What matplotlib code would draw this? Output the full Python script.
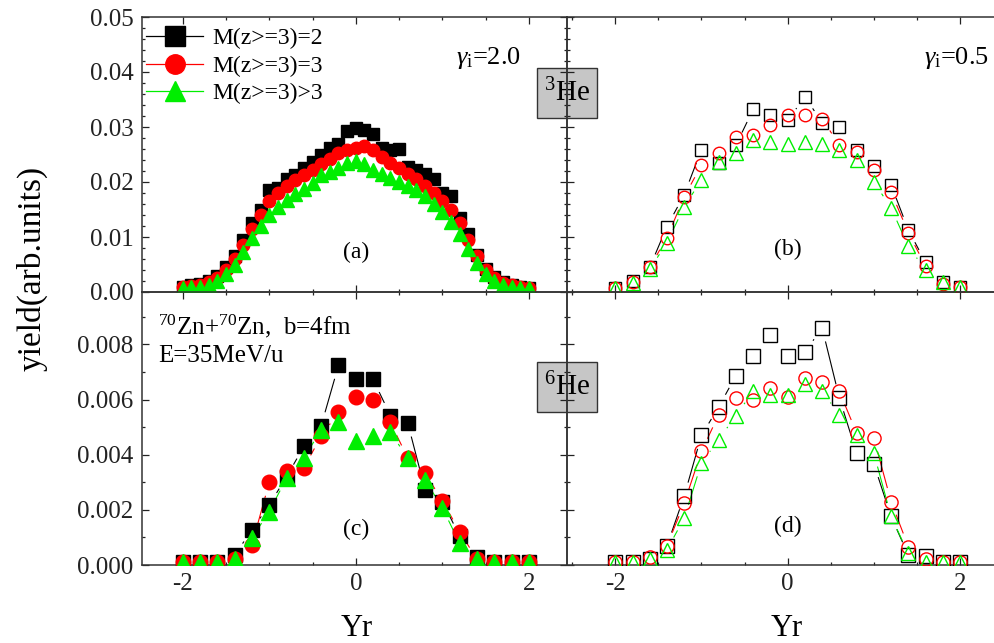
import numpy as np
import matplotlib
matplotlib.use('Agg')
import matplotlib.pyplot as plt
from matplotlib.ticker import MultipleLocator, NullFormatter
from matplotlib.collections import LineCollection
from matplotlib.lines import Line2D
from matplotlib.patches import Rectangle

plt.rcParams['font.family'] = ['Liberation Serif', 'DejaVu Serif']
plt.rcParams['mathtext.fontset'] = 'custom'
plt.rcParams['mathtext.rm'] = 'Liberation Serif'
plt.rcParams['mathtext.it'] = 'Liberation Serif:italic'

# rapidity grid (panel a is finer)
yr_fine = [-2.0, -1.9, -1.8, -1.7, -1.6, -1.5, -1.4, -1.3, -1.2, -1.1, -1.0,
           -0.9, -0.8, -0.7, -0.6, -0.5, -0.4, -0.3, -0.2, -0.1, 0.0,
           0.1, 0.2, 0.3, 0.4, 0.5, 0.6, 0.7, 0.8, 0.9, 1.0,
           1.1, 1.2, 1.3, 1.4, 1.5, 1.6, 1.7, 1.8, 1.9, 2.0]
yr = [-2.0, -1.8, -1.6, -1.4, -1.2, -1.0, -0.8, -0.6, -0.4, -0.2, 0.0,
      0.2, 0.4, 0.6, 0.8, 1.0, 1.2, 1.4, 1.6, 1.8, 2.0]

labels = ['M(z>=3)=2', 'M(z>=3)=3', 'M(z>=3)>3']
colors = ['black', '#ff0000', '#00ee00']
markers = ['s', 'o', '^']

# (a) 3He, gamma_i = 2.0
a_m2 = [0.0010, 0.0012, 0.0015, 0.0020, 0.0030, 0.0045, 0.0065, 0.0095, 0.0125, 0.0150, 0.0185,
        0.0190, 0.0205, 0.0212, 0.0225, 0.0237, 0.0250, 0.0262, 0.0270, 0.0292, 0.0298,
        0.0295, 0.0288, 0.0262, 0.0258, 0.0260, 0.0228, 0.0222, 0.0215, 0.0205, 0.0180,
        0.0175, 0.0135, 0.0105, 0.0068, 0.0042, 0.0027, 0.0018, 0.0013, 0.0010, 0.0008]
a_m3 = [0.0010, 0.0011, 0.0013, 0.0018, 0.0025, 0.0040, 0.0060, 0.0085, 0.0115, 0.0140, 0.0165,
        0.0180, 0.0192, 0.0203, 0.0212, 0.0222, 0.0232, 0.0242, 0.0252, 0.0258, 0.0262,
        0.0266, 0.0258, 0.0245, 0.0235, 0.0225, 0.0215, 0.0205, 0.0192, 0.0180, 0.0165,
        0.0150, 0.0125, 0.0095, 0.0065, 0.0040, 0.0025, 0.0017, 0.0012, 0.0010, 0.0008]
a_mg = [0.0008, 0.0009, 0.0010, 0.0013, 0.0020, 0.0032, 0.0050, 0.0072, 0.0098, 0.0120, 0.0140,
        0.0155, 0.0168, 0.0178, 0.0188, 0.0198, 0.0212, 0.0218, 0.0225, 0.0235, 0.0238,
        0.0232, 0.0222, 0.0215, 0.0208, 0.0200, 0.0192, 0.0185, 0.0175, 0.0160, 0.0145,
        0.0128, 0.0105, 0.0078, 0.0052, 0.0032, 0.0020, 0.0013, 0.0010, 0.0008, 0.0007]

# (b) 3He, gamma_i = 0.5
b_m2 = [0.0007, 0.0020, 0.0045, 0.0119, 0.0177, 0.0259, 0.0235, 0.0267, 0.0332, 0.0321, 0.0312,
        0.0355, 0.0308, 0.0300, 0.0258, 0.0230, 0.0195, 0.0113, 0.0054, 0.0018, 0.0009]
b_m3 = [0.0008, 0.0018, 0.0045, 0.0099, 0.0173, 0.0231, 0.0252, 0.0281, 0.0285, 0.0303, 0.0321,
        0.0321, 0.0315, 0.0267, 0.0254, 0.0222, 0.0182, 0.0108, 0.0047, 0.0014, 0.0009]
b_mg = [0.0008, 0.0017, 0.0041, 0.0090, 0.0155, 0.0204, 0.0236, 0.0252, 0.0276, 0.0272, 0.0270,
        0.0272, 0.0270, 0.0259, 0.0240, 0.0200, 0.0153, 0.0083, 0.0040, 0.0018, 0.0010]

# (c) 6He, gamma_i = 2.0
c_m2 = [0.0001, 0.0001, 0.0001, 0.00036, 0.00127, 0.00218, 0.0032, 0.0043, 0.00505, 0.00724, 0.00673,
        0.00673, 0.00542, 0.00515, 0.00273, 0.0023, 0.00105, 0.0003, 0.0001, 0.0001, 0.0001]
c_m3 = [0.0001, 0.0001, 0.0001, 0.0002, 0.00073, 0.0030, 0.0034, 0.00353, 0.00467, 0.00554, 0.0061,
        0.0060, 0.00517, 0.00388, 0.00333, 0.00233, 0.00121, 0.0002, 0.0001, 0.0001, 0.0001]
c_mg = [0.0001, 0.0001, 0.0001, 0.0002, 0.00098, 0.00194, 0.00315, 0.00388, 0.0049, 0.00517, 0.00448,
        0.00467, 0.00481, 0.00388, 0.00309, 0.00207, 0.00079, 0.0002, 0.0001, 0.0001, 0.0001]

# (d) 6He, gamma_i = 0.5
d_m2 = [0.0001, 0.0001, 0.0002, 0.0007, 0.0025, 0.0047, 0.00573, 0.00687, 0.00758, 0.00833, 0.00758,
        0.00772, 0.0086, 0.00606, 0.00406, 0.00367, 0.00176, 0.00036, 0.00033, 0.0001, 0.0001]
d_m3 = [0.0001, 0.0001, 0.0003, 0.0007, 0.00224, 0.00412, 0.00545, 0.00606, 0.00598, 0.00642, 0.0061,
        0.00679, 0.00663, 0.0063, 0.00479, 0.00461, 0.0023, 0.00067, 0.0002, 0.0001, 0.0001]
d_mg = [0.0001, 0.0001, 0.0002, 0.00055, 0.0017, 0.0037, 0.00455, 0.00542, 0.0063, 0.00615, 0.00615,
        0.00655, 0.0063, 0.00545, 0.00473, 0.00406, 0.00176, 0.00042, 0.0001, 0.0001, 0.0001]

W, H = 994, 643
fig = plt.figure(figsize=(W / 100, H / 100), dpi=100)
fig.patch.set_facecolor('white')


def px_axes(x0, y0, x1, y1):
    ax = fig.add_axes([x0 / W, 1 - y1 / H, (x1 - x0) / W, (y1 - y0) / H])
    ax.set_facecolor('none')
    return ax


ax_a = px_axes(142, 17, 567, 292)
ax_b = px_axes(567, 17, 1010, 292)
ax_c = px_axes(142, 292, 567, 565)
ax_d = px_axes(567, 292, 1010, 565)

for ax in (ax_a, ax_c):
    ax.set_xlim(-2.47, 2.44)
for ax in (ax_b, ax_d):
    ax.set_xlim(-2.56, 2.58)
for ax in (ax_a, ax_b):
    ax.set_ylim(0, 0.05)
    ax.yaxis.set_major_locator(MultipleLocator(0.01))
    ax.yaxis.set_minor_locator(MultipleLocator(0.002))
    ax.xaxis.set_major_formatter(NullFormatter())
for ax in (ax_c, ax_d):
    ax.set_ylim(0, 0.0099)
    ax.yaxis.set_major_locator(MultipleLocator(0.002))
    ax.yaxis.set_minor_locator(MultipleLocator(0.001))
for ax in (ax_b, ax_d):
    ax.yaxis.set_major_formatter(NullFormatter())

ax_a.yaxis.set_major_formatter(plt.FuncFormatter(lambda v, p: f'{v:.2f}'))
ax_c.yaxis.set_major_formatter(plt.FuncFormatter(lambda v, p: f'{v:.3f}'))
for ax in (ax_c, ax_d):
    ax.xaxis.set_major_formatter(plt.FuncFormatter(lambda v, p: f'{v:.0f}'))

for ax in (ax_a, ax_b, ax_c, ax_d):
    ax.xaxis.set_major_locator(MultipleLocator(2))
    ax.xaxis.set_minor_locator(MultipleLocator(0.5))
    ax.tick_params(which='both', direction='in', top=True, right=True,
                   labelsize=18, width=0.9, colors='#222222', pad=6)
    ax.tick_params(which='major', length=5)
    ax.tick_params(which='minor', length=2.5)
    for s in ax.spines.values():
        s.set_linewidth(1.1)
        s.set_color('#333333')


def gap_line(ax, x, y, color, gap):
    # Origin-style connecting line that stops short of each symbol
    pts = ax.transData.transform(np.column_stack([x, y]))
    inv = ax.transData.inverted()
    segs = []
    for p0, p1 in zip(pts[:-1], pts[1:]):
        d = p1 - p0
        L = np.hypot(*d)
        if L > 2 * gap + 1:
            u = d / L
            segs.append(inv.transform(np.array([p0 + u * gap, p1 - u * gap])))
    ax.add_collection(LineCollection(segs, colors=color, linewidths=0.8, zorder=2))


def draw_panel(ax, x, series, filled, ms, gap):
    for y, c, m in zip(series, colors, markers):
        gap_line(ax, x, y, c, gap)
        size = ms * 1.1 if m == '^' else ms
        if filled:
            ax.plot(x, y, ls='none', marker=m, ms=size, color=c, mec=c, zorder=3)
        else:
            ax.plot(x, y, ls='none', marker=m, ms=size, mfc='none', mec=c, mew=1.0, zorder=3)


draw_panel(ax_a, yr_fine, [a_m2, a_m3, a_mg], True, 9, 10)
draw_panel(ax_b, yr, [b_m2, b_m3, b_mg], False, 9, 14)
draw_panel(ax_c, yr, [c_m2, c_m3, c_mg], True, 10.5, 14)
draw_panel(ax_d, yr, [d_m2, d_m3, d_mg], False, 9.5, 14)

handles = [Line2D([], [], color=c, marker=m, ms=14 if m != '^' else 15, lw=0.9, mec=c)
           for c, m in zip(colors, markers)]
ax_a.legend(handles, labels, loc='upper left', bbox_to_anchor=(0.01, 0.96),
            frameon=False, fontsize=17, handlelength=2.4, handletextpad=0.4,
            labelspacing=0.25, borderpad=0, borderaxespad=0, numpoints=1)

txt = dict(ha='center', va='center', fontsize=17)
ax_a.text(0.815, 0.85, r'$\gamma_\mathrm{i}$=2.0', transform=ax_a.transAxes,
          ha='center', va='center', fontsize=19)
ax_b.text(0.88, 0.85, r'$\gamma_\mathrm{i}$=0.5', transform=ax_b.transAxes,
          ha='center', va='center', fontsize=19)
ax_a.text(0, 0.0072, '(a)', **txt)
ax_b.text(0, 0.0078, '(b)', **txt)
ax_c.text(0, 0.0013, '(c)', **txt)
ax_d.text(0, 0.0014, '(d)', **txt)
ax_c.text(0.038, 0.875, r'$^{70}$Zn+$^{70}$Zn,  b=4fm', transform=ax_c.transAxes,
          ha='left', va='center', fontsize=18)
ax_c.text(0.038, 0.765, 'E=35MeV/u', transform=ax_c.transAxes,
          ha='left', va='center', fontsize=18)

# grey nucleus boxes sitting on the panel boundary
for label, yc in [(r'$^{3}$He', 93), (r'$^{6}$He', 387)]:
    fig.add_artist(Rectangle(((567 - 30) / W, 1 - (yc + 25) / H), 60 / W, 50 / H,
                             transform=fig.transFigure, facecolor='#c6c6c6',
                             edgecolor='#333333', lw=1.0, zorder=-1))
    fig.text(567 / W, 1 - yc / H, label, ha='center', va='center', fontsize=21, zorder=-0.5)

fig.text(32 / W, 1 - 268 / H, 'yield(arb.units)', rotation=90, ha='center',
         va='center', fontsize=24)
fig.text(357 / W, 1 - 628 / H, 'Yr', ha='center', va='center', fontsize=22)
fig.text(787 / W, 1 - 628 / H, 'Yr', ha='center', va='center', fontsize=22)

fig.savefig('out.png', dpi=100, facecolor='white')
